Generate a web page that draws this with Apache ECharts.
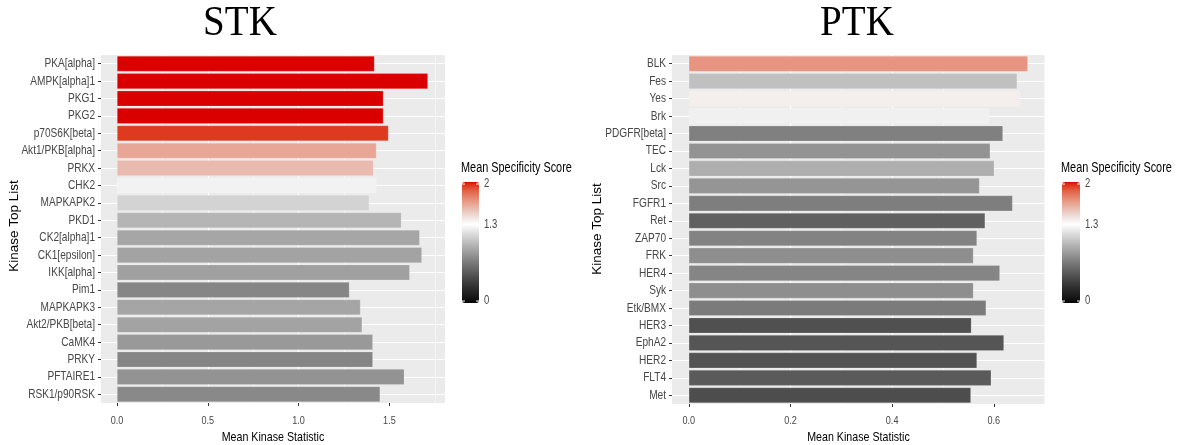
<!DOCTYPE html>
<html><head><meta charset="utf-8">
<script src="https://cdn.jsdelivr.net/npm/echarts@6/dist/echarts.min.js"></script>
<style>html,body{margin:0;padding:0;background:#fff}#c{width:1192px;height:445px}</style>
</head><body><div id="c"></div>
<script>
const stkCategories = ['PKA[alpha]','AMPK[alpha]1','PKG1','PKG2','p70S6K[beta]','Akt1/PKB[alpha]','PRKX','CHK2','MAPKAPK2','PKD1','CK2[alpha]1','CK1[epsilon]','IKK[alpha]','Pim1','MAPKAPK3','Akt2/PKB[beta]','CaMK4','PRKY','PFTAIRE1','RSK1/p90RSK'];
const stkValues = [1.418,1.712,1.467,1.467,1.495,1.429,1.412,1.429,1.389,1.566,1.667,1.679,1.612,1.280,1.341,1.350,1.409,1.409,1.582,1.449];
const stkScores = [2.0,2.0,2.0,2.0,1.94,1.635,1.568,1.24,1.10,0.958,0.885,0.871,0.856,0.727,0.88,0.871,0.822,0.722,0.79,0.742];
const ptkCategories = ['BLK','Fes','Yes','Brk','PDGFR[beta]','TEC','Lck','Src','FGFR1','Ret','ZAP70','FRK','HER4','Syk','Etk/BMX','HER3','EphA2','HER2','FLT4','Met'];
const ptkValues = [0.667,0.646,0.652,0.591,0.618,0.593,0.601,0.572,0.637,0.583,0.567,0.560,0.612,0.560,0.585,0.556,0.620,0.567,0.595,0.555];
const ptkScores = [1.695,1.01,1.37,1.232,0.697,0.79,0.925,0.802,0.686,0.529,0.712,0.767,0.722,0.767,0.671,0.442,0.469,0.458,0.497,0.427];
const stkTicks = [0, 0.5, 1, 1.5];
const ptkTicks = [0, 0.2, 0.4, 0.6];
const scoreTicks = [0, 1.3, 2];
const scoreMin = 0, scoreMid = 1.3, scoreMax = 2;
const panelTitles = ['STK', 'PTK'];
const xTitle = 'Mean Kinase Statistic', yTitle = 'Kinase Top List', legendTitle = 'Mean Specificity Score';

// ---- colour scale (black -> white -> red, in Lab) ----
function toLin(c){c/=255;return c<=0.04045?c/12.92:Math.pow((c+0.055)/1.055,2.4);}
function fromLin(v){v=Math.max(0,Math.min(1,v));const c=v<=0.0031308?12.92*v:1.055*Math.pow(v,1/2.4)-0.055;return Math.round(c*255);}
const Xn=0.95047,Yn=1,Zn=1.08883;
function ff(t){return t>0.008856?Math.cbrt(t):7.787*t+16/116;}
function finv(t){return t>0.206893?t*t*t:(t-16/116)/7.787;}
function rgb2lab(c){const r=toLin(c[0]),g=toLin(c[1]),b=toLin(c[2]);
  const X=0.4124*r+0.3576*g+0.1805*b,Y=0.2126*r+0.7152*g+0.0722*b,Z=0.0193*r+0.1192*g+0.9505*b;
  const fx=ff(X/Xn),fy=ff(Y/Yn),fz=ff(Z/Zn);return [116*fy-16,500*(fx-fy),200*(fy-fz)];}
function lab2rgb(l){const fy=(l[0]+16)/116,fx=fy+l[1]/500,fz=fy-l[2]/200;
  const X=Xn*finv(fx),Y=Yn*finv(fy),Z=Zn*finv(fz);
  const r=3.2406*X-1.5372*Y-0.4986*Z,g=-0.9689*X+1.8758*Y+0.0415*Z,b=0.0557*X-0.2040*Y+1.0570*Z;
  return 'rgb('+fromLin(r)+','+fromLin(g)+','+fromLin(b)+')';}
const LOW=rgb2lab([0,0,0]),MID=rgb2lab([255,255,255]),HIGH=rgb2lab([219,0,0]);
function scoreColor(s){
  if(s<=scoreMid){const t=(s-scoreMin)/(scoreMid-scoreMin);return lab2rgb([LOW[0]+(MID[0]-LOW[0])*t,0,0]);}
  const u=(s-scoreMid)/(scoreMax-scoreMid),k=Math.pow(u,1.6);
  return lab2rgb([MID[0]+(HIGH[0]-MID[0])*u,HIGH[1]*k,HIGH[2]*k]);
}
const palette=[];for(let i=0;i<=200;i++)palette.push(scoreColor(scoreMin+(scoreMax-scoreMin)*i/200));

const SANS='"Liberation Sans",Arial,sans-serif';
const SQX=0.79; // horizontal squeeze of the original figure's text
const chart=echarts.init(document.getElementById('c'),null,{renderer:'canvas'});

const G=[{left:101,top:55,width:344,height:348},{left:672,top:55,width:373,height:349}];
const LEG=[{x:462,w:17},{x:1062,w:18}];

function xAxisCfg(gi,min,max,ticks,iv){
  return {gridIndex:gi,type:'value',min:min,max:max,splitNumber:4,minInterval:iv,maxInterval:iv,
    axisLine:{show:false,onZero:false},
    axisTick:{show:true,length:3,lineStyle:{color:'#333',width:1},customValues:ticks},
    axisLabel:{show:false},
    splitLine:{show:true,showMinLine:false,showMaxLine:false,lineStyle:{color:'#fff',width:1.1}},
    minorTick:{show:false,splitNumber:2},
    minorSplitLine:{show:true,lineStyle:{color:'#fff',width:0.5}}};
}
function yAxisCfg(gi,cats){
  return {gridIndex:gi,type:'category',data:cats,inverse:true,position:'left',
    axisLine:{show:false,onZero:false},
    axisTick:{show:true,alignWithLabel:true,length:3,lineStyle:{color:'#333'}},
    axisLabel:{show:false},splitLine:{show:false}};
}
function yGridCfg(gi,n){
  const d=[];for(let i=0;i<=2*n;i++)d.push('g'+i);
  return {gridIndex:gi,type:'category',data:d,boundaryGap:false,position:'right',
    axisLine:{show:false,onZero:false},axisTick:{show:false},axisLabel:{show:false},
    splitLine:{show:true,interval:(i)=>i%2===1,lineStyle:{color:'#fff',width:1.1}}};
}
function barSeries(gi,cats,vals,scores){
  return {type:'bar',xAxisIndex:gi,yAxisIndex:gi,encode:{x:0,y:1},
    data:cats.map((c,i)=>[vals[i],c,scores[i]]),barWidth:'90%',silent:true,
    itemStyle:{borderColor:'rgba(255,255,255,0.3)',borderWidth:0.6}};
}

chart.setOption({
  animation:false,
  backgroundColor:'#fff',
  grid:G.map(g=>Object.assign({show:true,backgroundColor:'#EBEBEB',borderWidth:0},g)),
  xAxis:[xAxisCfg(0,-0.088,1.806,stkTicks,0.5),xAxisCfg(1,-0.033,0.7007,ptkTicks,0.2)],
  yAxis:[yAxisCfg(0,stkCategories),yAxisCfg(1,ptkCategories),yGridCfg(0,stkCategories.length),yGridCfg(1,ptkCategories.length)],
  visualMap:LEG.map((l,i)=>({type:'continuous',seriesIndex:i,dimension:2,min:scoreMin,max:scoreMax,calculable:false,
     inRange:{color:palette},left:l.x,top:182,itemWidth:l.w,itemHeight:121,padding:0,hoverLink:false})),
  series:[barSeries(0,stkCategories,stkValues,stkScores),barSeries(1,ptkCategories,ptkValues,ptkScores)]
});

// ---- text drawn as graphics (to reproduce the horizontally squeezed lettering) ----
function txt(x,y,text,size,o){
  o=o||{};
  return {type:'text',x:x,y:y,rotation:o.rot||0,scaleX:o.sx==null?SQX:o.sx,z:20,
    style:{text:text,font:(o.font?size+'px '+o.font:size+'px '+SANS),fill:o.fill||'#474747',
      align:o.align||'center',verticalAlign:'middle'}};
}
const els=[];
const panels=[{cats:stkCategories,ticks:stkTicks,titleX:240,yTitleX:14,yTitleY:226},
              {cats:ptkCategories,ticks:ptkTicks,titleX:857,yTitleX:597,yTitleY:229}];
panels.forEach((p,gi)=>{
  const g=G[gi];
  p.cats.forEach((c,i)=>{
    const y=chart.convertToPixel({yAxisIndex:gi},i);
    els.push(txt(g.left-6,y,c,12.8,{align:'right'}));
  });
  p.ticks.forEach(t=>{
    const x=chart.convertToPixel({xAxisIndex:gi},t);
    els.push(txt(x,421,t.toFixed(1),11.5));
  });
  els.push(txt(g.left+g.width/2,437,xTitle,13.5,{fill:'#000'}));
  els.push(txt(p.yTitleX,p.yTitleY,yTitle,13.5,{fill:'#000',rot:Math.PI/2,sx:1}));
  els.push(txt(p.titleX,24,panelTitles[gi],42,{fill:'#000',font:'"Liberation Serif","Times New Roman",serif',sx:0.93}));
  const l=LEG[gi],top=184,bot=301;
  els.push(txt(l.x-1,168,legendTitle,13.8,{fill:'#000',align:'left'}));
  scoreTicks.forEach(t=>{
    const y=bot-(t-scoreMin)/(scoreMax-scoreMin)*(bot-top);
    els.push(txt(l.x+l.w+5,y,String(t),12,{align:'left'}));
    els.push({type:'line',z:20,shape:{x1:l.x,y1:y,x2:l.x+3,y2:y},style:{stroke:'#fff',lineWidth:1}});
    els.push({type:'line',z:20,shape:{x1:l.x+l.w-3,y1:y,x2:l.x+l.w,y2:y},style:{stroke:'#fff',lineWidth:1}});
  });
});
chart.setOption({graphic:{elements:els}});
</script></body></html>
